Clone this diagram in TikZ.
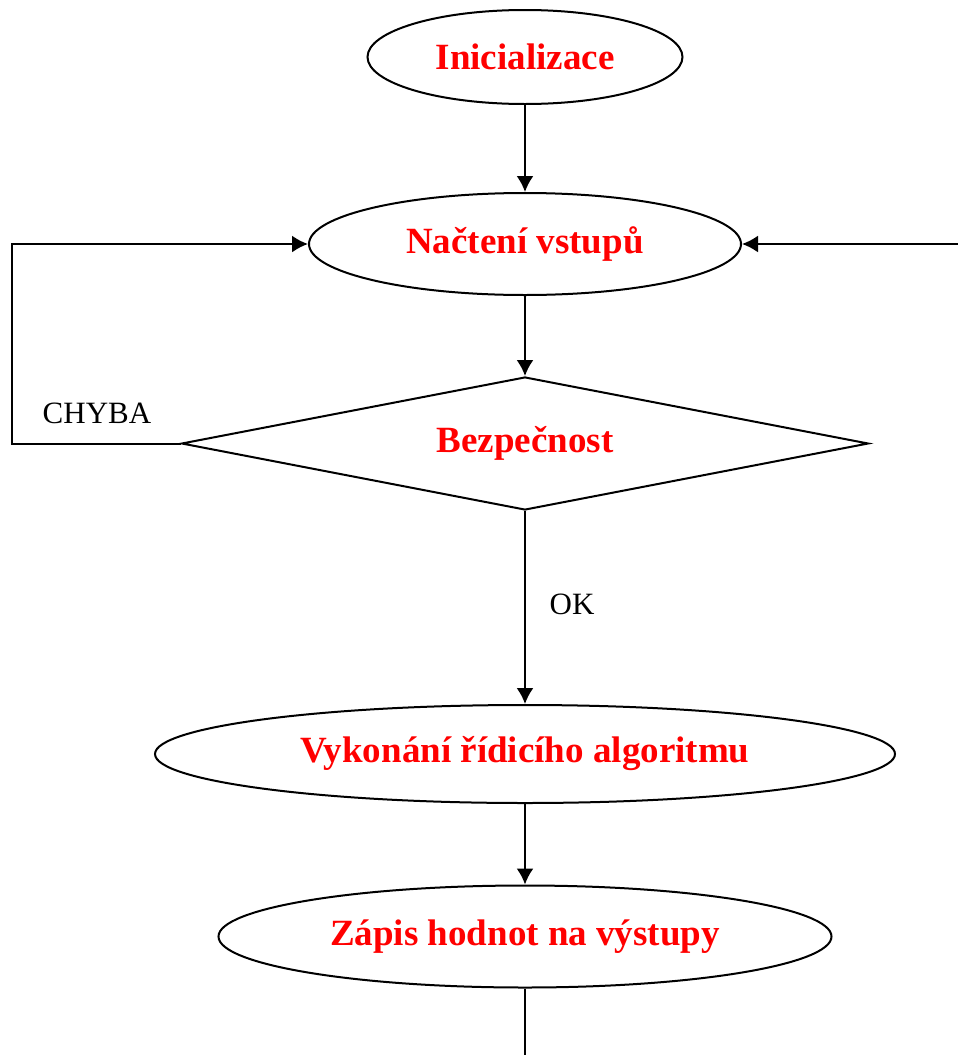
\documentclass[tikz,border=0pt]{standalone}
\usepackage{fontspec}
\setmainfont{Liberation Serif}
\usetikzlibrary{shapes,arrows.meta,positioning}
\tikzset{
  flow/.style={-{Latex[length=8pt,width=8.5pt]}, draw, black, line width=1pt},
  redtext/.style={font=\fontsize{18.5}{22}\selectfont\bfseries, text=red},
}

\begin{document}
\begin{tikzpicture}[x=0.5pt,y=-0.5pt,
            oval/.style={ellipse,draw=black,line width=1pt,inner sep=0pt,redtext},
            test/.style={diamond,aspect=5.17,draw=black,line width=1pt,inner sep=0pt,redtext},
            note/.style={font=\fontsize{15.5}{18}\selectfont}]
            \useasboundingbox (0,0) rectangle (958,1055);

            \node (init)[oval, minimum width=157.5pt, minimum height=47pt] at (525,57) {Inicializace};
            \node (read)[oval, minimum width=216pt, minimum height=51pt] at (525,244) {Načtení vstupů};
            \node (safe)[test, minimum width=343.5pt, minimum height=66.5pt] at (525,443.5) {Bezpečnost};
            \node (ctrl)[oval, minimum width=370pt, minimum height=49pt] at (525,754) {Vykonání řídicího algoritmu};
            \node (write)[oval, minimum width=306.5pt, minimum height=51pt] at (525,936.5) {Zápis hodnot na výstupy};

            \node (err)[note] at (97,413) {CHYBA};
            \node (ok)[note] at (572,604) {OK};

            \coordinate (fromR) at (958,244);
            \coordinate (toNext) at (525,1055);

            \draw [flow] (init) to (read);
            \draw [flow] (read) to (safe.north);
            \draw [flow] (safe.west) -- (12,443.5) |- (read.west);
            \draw [flow] (fromR) to (read.east);
            \draw [flow] (safe.south) to (ctrl.north);
            \draw [flow] (ctrl) to (write);
            \draw [line width=1pt] (write.south) -- (toNext);

         \end{tikzpicture}
\end{document}
